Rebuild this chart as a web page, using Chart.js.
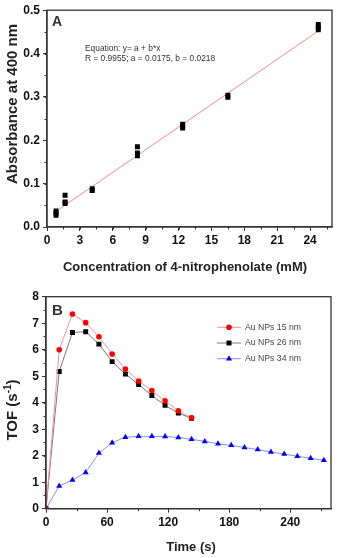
<!DOCTYPE html>
<html>
<head>
<meta charset="utf-8">
<script src="https://cdn.jsdelivr.net/npm/chart.js@4.4.0/dist/chart.umd.min.js"></script>
<style>
  html, body { margin: 0; padding: 0; background: #fff; }
  #wrap { position: relative; width: 340px; height: 558px; overflow: hidden; }
  #chartA { position: absolute; left: 0; top: 0; }
  #chartB { position: absolute; left: 0; top: 282px; }
</style>
</head>
<body>
<div id="wrap">
  <canvas id="chartA" width="340" height="282"></canvas>
  <canvas id="chartB" width="340" height="276"></canvas>
</div>
<script>
//
// Panel A - calibration
var concX = [0.825, 0.825, 0.825, 1.65, 1.65, 1.65, 4.125, 4.125, 8.25, 8.25, 8.25, 12.375, 12.375, 12.375, 16.5, 16.5, 24.75, 24.75, 24.75];
var absorbY = [0.027, 0.032, 0.037, 0.054, 0.058, 0.073, 0.084, 0.088, 0.164, 0.171, 0.185, 0.228, 0.233, 0.237, 0.299, 0.304, 0.455, 0.461, 0.467];
var fitX = [0.825, 24.75];
var fitY = [0.036, 0.452];
var concTicks = [0, 3, 6, 9, 12, 15, 18, 21, 24];
var absTicks = [0, 0.1, 0.2, 0.3, 0.4, 0.5];

//
// Panel B - TOF vs time
var timeS = [0, 13, 26, 39, 52, 65, 78, 91, 104, 117, 130, 143, 156, 169, 182, 195, 208, 221, 234, 247, 260, 273];
var tof15 = [0, 6.0, 7.35, 7.02, 6.49, 5.84, 5.27, 4.82, 4.46, 4.07, 3.69, 3.43];
var tof26 = [0, 5.18, 6.65, 6.68, 6.21, 5.55, 5.08, 4.69, 4.27, 3.9, 3.61, 3.41];
var tof34 = [0, 0.86, 1.08, 1.37, 2.1, 2.49, 2.7, 2.73, 2.73, 2.72, 2.69, 2.62, 2.54, 2.45, 2.39, 2.31, 2.23, 2.14, 2.06, 1.98, 1.9, 1.83];
var seriesNames = ['Au NPs 15 nm', 'Au NPs 26 nm', 'Au NPs 34 nm'];
var timeTicks = [0, 60, 120, 180, 240];
var tofTicks = [0, 1, 2, 3, 4, 5, 6, 7, 8];

var FONT = '"Liberation Sans", Arial, sans-serif';
var AXIS = '#333';

function toPoints(xs, ys) {
  return ys.map(function(y, i){ return { x: xs[i], y: y }; });
}

function fixedTicks(list) {
  return function(scale){ scale.ticks = list.map(function(v){ return { value: v }; }); };
}

//
// Box around the plot area
var framePlugin = {
  id: 'frame',
  afterDatasetsDraw: function(chart) {
    var a = chart.chartArea, ctx = chart.ctx;
    ctx.save();
    ctx.strokeStyle = AXIS;
    ctx.lineWidth = 1.3;
    ctx.strokeRect(a.left, a.top, a.right - a.left, a.bottom - a.top);
    ctx.restore();
  }
};

//
// Small outward ticks between the labelled ones
var minorTicksPlugin = {
  id: 'minorTicks',
  afterDraw: function(chart, args, opts) {
    var ctx = chart.ctx, a = chart.chartArea;
    var xs = chart.scales.x, ys = chart.scales.y;
    ctx.save();
    ctx.strokeStyle = AXIS;
    ctx.lineWidth = 1;
    var n, v, p;
    for (n = 1; (v = xs.min + n * opts.x) < xs.max - 1e-9; n++) {
      p = Math.round(xs.getPixelForValue(v)) + 0.5;
      ctx.beginPath(); ctx.moveTo(p, a.bottom); ctx.lineTo(p, a.bottom + 2.5); ctx.stroke();
    }
    for (n = 1; (v = ys.min + n * opts.y) < ys.max - 1e-9; n++) {
      p = Math.round(ys.getPixelForValue(v)) + 0.5;
      ctx.beginPath(); ctx.moveTo(a.left, p); ctx.lineTo(a.left - 2.5, p); ctx.stroke();
    }
    ctx.restore();
  }
};

//
// Free text: axis titles, panel letter, equation
var textPlugin = {
  id: 'texts',
  afterDraw: function(chart, args, opts) {
    var ctx = chart.ctx;
    opts.items.forEach(function(it){
      ctx.save();
      ctx.translate(it.x, it.y);
      if (it.rot) ctx.rotate(it.rot);
      ctx.fillStyle = it.color || '#222';
      ctx.textBaseline = 'middle';
      var parts = it.parts || [{ t: it.text }];
      var mainFont = (it.bold ? 'bold ' : '') + it.size + 'px ' + FONT;
      var supFont = (it.bold ? 'bold ' : '') + Math.round(it.size * 0.65) + 'px ' + FONT;
      var total = 0;
      parts.forEach(function(p){
        ctx.font = p.sup ? supFont : mainFont;
        p.w = ctx.measureText(p.t).width;
        total += p.w;
      });
      var x0 = it.align === 'left' ? 0 : -total / 2;
      ctx.textAlign = 'left';
      parts.forEach(function(p){
        ctx.font = p.sup ? supFont : mainFont;
        ctx.fillText(p.t, x0, p.sup ? -it.size * 0.35 : 0);
        x0 += p.w;
      });
      ctx.restore();
    });
  }
};

//
// Legend inside panel B
var legendPlugin = {
  id: 'insideLegend',
  afterDraw: function(chart, args, opts) {
    if (!opts.show) return;
    var ctx = chart.ctx;
    chart.data.datasets.forEach(function(ds, i){
      var y = opts.y + i * opts.step;
      ctx.save();
      ctx.strokeStyle = ds.borderColor;
      ctx.lineWidth = 1;
      ctx.beginPath(); ctx.moveTo(opts.x, y); ctx.lineTo(opts.x + opts.len, y); ctx.stroke();
      ctx.fillStyle = ds.pointBackgroundColor;
      ctx.strokeStyle = ds.pointBackgroundColor;
      Chart.helpers.drawPoint(ctx, { pointStyle: ds.pointStyle, radius: ds.pointRadius, borderWidth: 0, rotation: 0 }, opts.x + opts.len / 2, y);
      ctx.fillStyle = '#444';
      ctx.font = '8.7px ' + FONT;
      ctx.textBaseline = 'middle';
      ctx.textAlign = 'left';
      ctx.fillText(ds.label, opts.x + opts.len + 4, y);
      ctx.restore();
    });
  }
};

function axisOptions(min, max, list, width, height, fmt) {
  return {
    type: 'linear',
    min: min,
    max: max,
    afterBuildTicks: fixedTicks(list),
    afterFit: function(scale){
      if (width) scale.width = width;
      if (height) scale.height = height;
    },
    border: { display: true, color: AXIS, width: 1.3 },
    grid: { drawOnChartArea: false, drawTicks: true, tickLength: 4, tickColor: AXIS, tickWidth: 1 },
    ticks: {
      color: '#111',
      font: { family: FONT, size: 12, weight: 'bold' },
      padding: width ? 3 : 2.5,
      maxRotation: 0,
      autoSkip: false,
      callback: fmt
    }
  };
}

//
// Draw panel A
new Chart(document.getElementById('chartA').getContext('2d'), {
  type: 'scatter',
  data: {
    datasets: [{
      data: toPoints(concX, absorbY),
      pointStyle: 'rect',
      pointRadius: 3.5,
      pointBackgroundColor: '#000',
      pointBorderWidth: 0,
      showLine: false
    }, {
      data: toPoints(fitX, fitY),
      showLine: true,
      borderColor: '#f08a8a',
      borderWidth: 1,
      pointRadius: 0
    }]
  },
  options: {
    responsive: false,
    animation: false,
    layout: { padding: { top: 10, right: 8, left: 0, bottom: 0 } },
    scales: {
      x: axisOptions(0, 26, concTicks, 0, 55, function(v){ return String(v); }),
      y: axisOptions(0, 0.5, absTicks, 47, 0, function(v){ return v.toFixed(1); })
    },
    plugins: {
      legend: { display: false },
      tooltip: { enabled: false },
      minorTicks: { x: 1.5, y: 0.05 },
      insideLegend: { show: false },
      texts: { items: [
        { text: 'Absorbance at 400 nm', x: 13, y: 104, rot: -Math.PI / 2, size: 15, bold: true },
        { text: 'Concentration of 4-nitrophenolate (mM)', x: 185, y: 267, size: 13, bold: true },
        { text: 'A', x: 52, y: 22, size: 14, bold: true, align: 'left', color: '#333' },
        { text: 'Equation: y= a + b*x', x: 85, y: 49, size: 8.4, align: 'left', color: '#333' },
        { text: 'R = 0.9955; a = 0.0175, b = 0.0218', x: 85, y: 59, size: 8.4, align: 'left', color: '#333' }
      ] }
    }
  },
  plugins: [framePlugin, minorTicksPlugin, textPlugin, legendPlugin]
});

//
// Draw panel B
new Chart(document.getElementById('chartB').getContext('2d'), {
  type: 'scatter',
  data: {
    datasets: [{
      label: seriesNames[0],
      data: toPoints(timeS, tof15),
      showLine: true,
      borderColor: '#f29494',
      borderWidth: 1,
      pointStyle: 'circle',
      pointRadius: 2.8,
      pointBackgroundColor: '#ff0000',
      pointBorderWidth: 0
    }, {
      label: seriesNames[1],
      data: toPoints(timeS, tof26),
      showLine: true,
      borderColor: '#7a7a7a',
      borderWidth: 1,
      pointStyle: 'rect',
      pointRadius: 3.5,
      pointBackgroundColor: '#000000',
      pointBorderWidth: 0
    }, {
      label: seriesNames[2],
      data: toPoints(timeS, tof34),
      showLine: true,
      borderColor: '#8c8cff',
      borderWidth: 1,
      pointStyle: 'triangle',
      pointRadius: 3.5,
      pointBackgroundColor: '#0000ff',
      pointBorderWidth: 0
    }]
  },
  options: {
    responsive: false,
    animation: false,
    layout: { padding: { top: 14.7, right: 9, left: 0, bottom: 0 } },
    scales: {
      x: axisOptions(0, 280, timeTicks, 0, 49.3, function(v){ return String(v); }),
      y: axisOptions(0, 8, tofTicks, 46, 0, function(v){ return String(v); })
    },
    plugins: {
      legend: { display: false },
      tooltip: { enabled: false },
      minorTicks: { x: 30, y: 0.5 },
      insideLegend: { show: true, x: 217, y: 45.3, step: 15.7, len: 24 },
      texts: { items: [
        { parts: [{ t: 'TOF (s' }, { t: '-1', sup: true }, { t: ')' }], x: 13, y: 128, rot: -Math.PI / 2, size: 15, bold: true },
        { text: 'Time (s)', x: 191, y: 265, size: 13, bold: true },
        { text: 'B', x: 52, y: 29, size: 15, bold: true, align: 'left', color: '#333' }
      ] }
    }
  },
  plugins: [framePlugin, minorTicksPlugin, textPlugin, legendPlugin]
});
</script>
</body>
</html>
